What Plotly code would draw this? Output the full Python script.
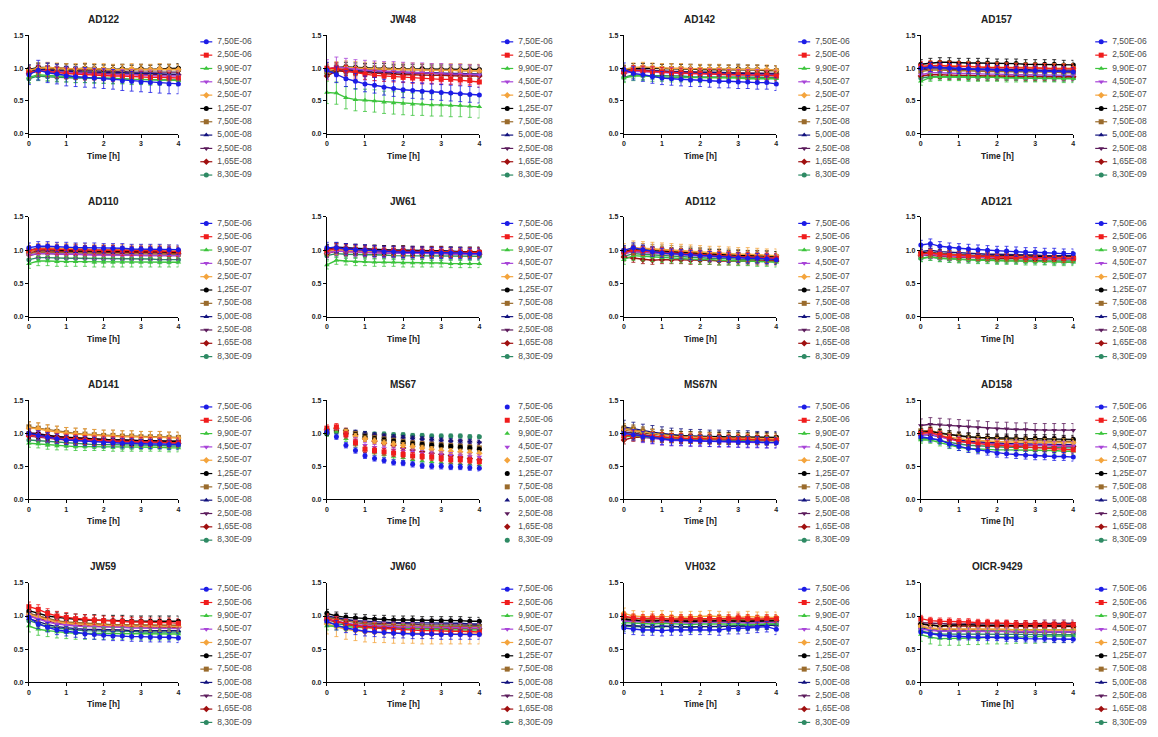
import plotly.graph_objects as go

W, H = 1158, 737

# ---------------- data ----------------
TIME_H = [0, 0.25, 0.5, 0.75, 1, 1.25, 1.5, 1.75, 2, 2.25, 2.5, 2.75, 3, 3.25, 3.5, 3.75, 4]
CONCENTRATIONS = ["7,50E-06", "2,50E-06", "9,90E-07", "4,50E-07", "2,50E-07", "1,25E-07",
                  "7,50E-08", "5,00E-08", "2,50E-08", "1,65E-08", "8,30E-09"]
X_TICKS = [0, 1, 2, 3, 4]
Y_TICKS = [0, 0.5, 1.0, 1.5]
Y_TICK_LABELS = ["0.0", "0.5", "1.0", "1.5"]
X_TITLE = "Time [h]"

# normalised signal in % of baseline; one row per concentration (order of CONCENTRATIONS)
AD122 = [
    [90, 97, 93, 91, 88, 87, 86, 85, 84, 83, 81, 80, 79, 78, 77, 76, 76],
    [93, 96, 95, 93, 92, 91, 90, 90, 89, 88, 88, 87, 87, 86, 86, 85, 85],
    [86, 90, 89, 88, 87, 86, 86, 85, 85, 84, 84, 83, 83, 82, 82, 82, 81],
    [92, 96, 95, 94, 93, 92, 92, 91, 91, 90, 90, 90, 89, 89, 88, 88, 88],
    [97, 100, 101, 100, 99, 99, 100, 99, 99, 98, 98, 99, 98, 98, 99, 98, 98],
    [98, 101, 101, 100, 100, 99, 100, 99, 98, 98, 99, 98, 99, 98, 99, 99, 100],
    [96, 100, 100, 99, 99, 98, 99, 98, 98, 97, 98, 97, 98, 97, 98, 98, 98],
    [94, 98, 97, 96, 95, 95, 94, 94, 93, 93, 93, 92, 92, 92, 91, 91, 91],
    [95, 99, 98, 97, 97, 96, 96, 96, 95, 95, 95, 94, 94, 94, 94, 93, 94],
    [92, 96, 95, 94, 93, 93, 92, 92, 92, 91, 91, 91, 90, 90, 90, 90, 90],
    [84, 88, 87, 86, 86, 85, 85, 85, 84, 84, 84, 83, 83, 83, 83, 83, 82],
]
AD122_SD = [15, 8, 8, 8, 8, 7, 7, 6, 6, 6, 7]

JW48 = [
    [97, 90, 84, 80, 76, 74, 71, 69, 67, 66, 65, 64, 63, 62, 61, 60, 59],
    [100, 100, 96, 93, 91, 89, 88, 87, 86, 85, 84, 84, 83, 83, 82, 81, 79],
    [63, 62, 55, 52, 51, 50, 48, 47, 46, 45, 45, 44, 44, 43, 43, 42, 41],
    [98, 102, 100, 98, 97, 96, 95, 95, 94, 93, 93, 92, 92, 91, 91, 90, 90],
    [96, 100, 101, 100, 99, 99, 99, 98, 98, 98, 97, 97, 97, 97, 97, 96, 96],
    [98, 101, 102, 101, 100, 100, 100, 99, 99, 99, 99, 98, 98, 98, 98, 98, 98],
    [95, 99, 100, 99, 99, 98, 98, 98, 98, 97, 97, 97, 97, 97, 96, 96, 96],
    [96, 99, 98, 97, 96, 95, 95, 94, 94, 93, 93, 93, 92, 92, 92, 91, 91],
    [94, 98, 97, 96, 95, 94, 94, 93, 93, 92, 92, 92, 91, 91, 90, 90, 89],
    [88, 96, 95, 94, 93, 92, 91, 91, 90, 90, 89, 89, 89, 88, 88, 88, 88],
    [92, 97, 96, 95, 94, 94, 93, 93, 93, 92, 92, 92, 92, 91, 91, 91, 91],
]
JW48_SD = [12, 8, 17, 15, 10, 7, 6, 6, 6, 6, 6]

AD142 = [
    [98, 92, 90, 87, 85, 84, 83, 82, 82, 81, 80, 80, 79, 79, 78, 78, 76],
    [95, 97, 96, 95, 94, 93, 93, 92, 92, 91, 91, 90, 90, 90, 89, 89, 88],
    [85, 88, 88, 87, 87, 86, 86, 86, 85, 85, 85, 85, 85, 84, 84, 84, 84],
    [92, 95, 95, 94, 93, 93, 92, 92, 91, 91, 91, 90, 90, 90, 90, 89, 89],
    [98, 101, 102, 101, 100, 100, 100, 99, 99, 99, 99, 98, 98, 98, 98, 98, 97],
    [97, 100, 100, 100, 99, 100, 99, 99, 98, 98, 98, 98, 99, 98, 98, 97, 97],
    [96, 100, 101, 100, 99, 99, 99, 98, 98, 98, 98, 97, 97, 97, 97, 96, 96],
    [94, 97, 97, 96, 95, 95, 94, 94, 94, 93, 93, 93, 92, 92, 92, 92, 91],
    [94, 97, 97, 96, 96, 95, 95, 94, 94, 94, 93, 93, 93, 93, 92, 92, 92],
    [92, 96, 95, 95, 94, 94, 93, 93, 93, 92, 92, 92, 92, 91, 91, 91, 91],
    [86, 90, 89, 89, 88, 88, 88, 87, 87, 87, 87, 86, 86, 86, 86, 86, 86],
]
AD142_SD = [10, 7, 7, 8, 7, 7, 7, 6, 6, 6, 6]

AD157 = [
    [100, 102, 101, 100, 99, 99, 98, 98, 97, 97, 96, 96, 96, 95, 95, 95, 94],
    [103, 104, 104, 103, 103, 102, 102, 101, 101, 101, 100, 100, 100, 100, 99, 99, 99],
    [80, 86, 87, 87, 87, 86, 86, 86, 86, 85, 85, 85, 85, 85, 85, 84, 84],
    [90, 93, 93, 92, 92, 92, 91, 91, 91, 90, 90, 90, 90, 90, 89, 89, 89],
    [100, 104, 104, 104, 103, 103, 102, 102, 102, 101, 101, 101, 101, 100, 100, 100, 100],
    [106, 108, 109, 109, 108, 108, 108, 108, 107, 107, 107, 106, 106, 106, 106, 105, 105],
    [95, 97, 97, 96, 96, 96, 95, 95, 95, 95, 94, 94, 94, 94, 94, 93, 93],
    [99, 101, 101, 100, 100, 99, 99, 99, 98, 98, 98, 98, 97, 97, 97, 97, 97],
    [97, 99, 99, 98, 98, 98, 97, 97, 97, 97, 96, 96, 96, 96, 96, 95, 95],
    [88, 90, 90, 89, 89, 89, 88, 88, 88, 88, 88, 87, 87, 87, 87, 87, 87],
    [85, 87, 87, 87, 87, 86, 86, 86, 86, 86, 86, 85, 85, 85, 85, 85, 85],
]
AD157_SD = [7, 7, 6, 7, 7, 7, 6, 6, 6, 6, 5]

AD110 = [
    [104, 106, 106, 105, 105, 104, 104, 104, 103, 103, 103, 102, 102, 102, 102, 101, 101],
    [100, 102, 102, 101, 101, 101, 100, 100, 100, 100, 99, 99, 99, 99, 99, 98, 98],
    [80, 84, 84, 83, 83, 83, 83, 82, 82, 82, 82, 82, 82, 82, 82, 82, 82],
    [93, 95, 95, 94, 94, 94, 93, 93, 93, 93, 92, 92, 92, 92, 92, 92, 92],
    [98, 102, 103, 103, 102, 102, 102, 101, 101, 101, 101, 100, 100, 100, 100, 100, 99],
    [99, 101, 101, 100, 100, 99, 99, 99, 99, 98, 98, 98, 98, 98, 98, 97, 97],
    [95, 97, 97, 97, 96, 96, 96, 96, 95, 95, 95, 95, 95, 95, 94, 94, 94],
    [100, 103, 103, 102, 102, 102, 101, 101, 101, 101, 100, 100, 100, 100, 100, 99, 99],
    [92, 95, 95, 94, 94, 94, 94, 93, 93, 93, 93, 93, 92, 92, 92, 92, 92],
    [96, 99, 99, 98, 98, 98, 97, 97, 97, 97, 96, 96, 96, 96, 96, 96, 95],
    [86, 89, 89, 88, 88, 88, 88, 87, 87, 87, 87, 87, 87, 87, 86, 86, 86],
]
AD110_SD = [7, 7, 7, 7, 8, 6, 6, 6, 6, 6, 6]

JW61 = [
    [104, 104, 102, 101, 100, 99, 98, 98, 97, 97, 97, 96, 96, 96, 96, 95, 95],
    [100, 103, 102, 101, 100, 100, 99, 99, 99, 98, 98, 98, 98, 97, 97, 97, 97],
    [78, 85, 84, 83, 83, 82, 82, 82, 81, 81, 81, 81, 81, 80, 80, 80, 80],
    [96, 99, 98, 97, 97, 96, 96, 96, 95, 95, 95, 95, 95, 94, 94, 94, 94],
    [98, 100, 100, 99, 99, 98, 98, 98, 98, 97, 97, 97, 97, 97, 96, 96, 96],
    [101, 104, 103, 102, 101, 101, 100, 100, 100, 99, 99, 99, 99, 98, 98, 98, 98],
    [97, 100, 100, 99, 98, 98, 98, 97, 97, 97, 97, 96, 96, 96, 96, 96, 96],
    [103, 105, 104, 103, 102, 101, 101, 100, 100, 100, 99, 99, 99, 99, 98, 98, 98],
    [99, 103, 102, 101, 100, 100, 99, 99, 99, 98, 98, 98, 98, 98, 97, 97, 97],
    [95, 99, 98, 98, 97, 97, 96, 96, 96, 96, 95, 95, 95, 95, 95, 94, 94],
    [92, 95, 94, 94, 93, 93, 93, 92, 92, 92, 92, 91, 91, 91, 91, 91, 91],
]
JW61_SD = [8, 7, 6, 7, 6, 7, 6, 6, 6, 6, 6]

AD112 = [
    [100, 104, 101, 98, 96, 95, 94, 93, 92, 91, 90, 89, 89, 88, 88, 87, 86],
    [97, 100, 99, 98, 97, 96, 95, 94, 93, 92, 92, 91, 90, 90, 89, 89, 88],
    [86, 92, 91, 90, 89, 88, 88, 87, 86, 86, 85, 85, 84, 84, 83, 83, 82],
    [95, 98, 97, 96, 95, 94, 93, 92, 92, 91, 90, 90, 89, 89, 88, 88, 88],
    [100, 104, 103, 102, 101, 100, 99, 98, 97, 96, 96, 95, 94, 94, 93, 92, 92],
    [98, 101, 100, 99, 98, 97, 96, 96, 95, 94, 94, 93, 93, 92, 92, 92, 91],
    [99, 103, 102, 101, 100, 99, 98, 97, 96, 95, 94, 94, 93, 92, 92, 91, 90],
    [97, 100, 99, 98, 97, 96, 95, 94, 93, 92, 92, 91, 91, 90, 90, 89, 89],
    [95, 98, 97, 96, 95, 94, 93, 93, 92, 91, 91, 90, 90, 89, 89, 88, 88],
    [90, 88, 86, 85, 86, 86, 86, 85, 85, 85, 84, 84, 84, 84, 84, 84, 84],
    [91, 95, 94, 93, 92, 91, 90, 90, 89, 88, 88, 87, 87, 86, 86, 86, 85],
]
AD112_SD = [7, 7, 7, 7, 10, 7, 8, 6, 6, 6, 6]

AD121 = [
    [108, 110, 106, 104, 103, 102, 101, 100, 99, 99, 98, 97, 97, 96, 96, 95, 95],
    [95, 96, 94, 93, 92, 92, 91, 91, 90, 90, 90, 89, 89, 89, 89, 88, 88],
    [88, 90, 88, 87, 86, 86, 85, 85, 84, 84, 84, 83, 83, 83, 82, 82, 82],
    [92, 94, 92, 91, 91, 90, 90, 90, 89, 89, 89, 88, 88, 88, 88, 88, 87],
    [94, 96, 94, 93, 92, 92, 91, 91, 91, 90, 90, 90, 89, 89, 89, 89, 89],
    [96, 97, 95, 94, 93, 93, 92, 92, 92, 91, 91, 91, 91, 90, 90, 90, 90],
    [93, 95, 93, 92, 91, 91, 90, 90, 90, 89, 89, 89, 89, 88, 88, 88, 88],
    [98, 100, 98, 97, 96, 95, 95, 94, 94, 94, 93, 93, 93, 92, 92, 92, 92],
    [95, 96, 94, 93, 92, 92, 91, 91, 91, 90, 90, 90, 90, 89, 89, 89, 89],
    [92, 93, 91, 90, 89, 89, 89, 88, 88, 88, 88, 87, 87, 87, 87, 87, 87],
    [88, 90, 88, 87, 87, 86, 86, 86, 85, 85, 85, 85, 85, 84, 84, 84, 84],
]
AD121_SD = [7, 6, 5, 6, 6, 6, 6, 6, 6, 5, 5]

AD141 = [
    [100, 97, 94, 92, 90, 89, 88, 87, 86, 86, 85, 85, 84, 84, 84, 83, 83],
    [98, 97, 95, 93, 92, 91, 90, 89, 89, 88, 88, 87, 87, 87, 86, 86, 86],
    [85, 84, 82, 81, 81, 80, 80, 80, 80, 79, 79, 79, 79, 79, 79, 78, 78],
    [97, 96, 94, 92, 91, 90, 89, 89, 88, 88, 87, 87, 87, 86, 86, 86, 86],
    [108, 107, 104, 102, 100, 99, 98, 97, 96, 96, 95, 95, 94, 94, 94, 93, 93],
    [100, 99, 97, 95, 94, 93, 92, 91, 91, 90, 90, 89, 89, 89, 88, 88, 88],
    [110, 108, 105, 103, 101, 100, 99, 98, 97, 97, 96, 96, 95, 95, 95, 94, 94],
    [99, 98, 96, 94, 93, 92, 91, 90, 90, 89, 89, 88, 88, 88, 87, 87, 87],
    [101, 100, 97, 95, 94, 93, 92, 91, 91, 90, 90, 89, 89, 89, 88, 88, 88],
    [96, 95, 93, 91, 90, 89, 89, 88, 88, 87, 87, 87, 86, 86, 86, 86, 85],
    [90, 89, 87, 86, 85, 84, 84, 83, 83, 83, 82, 82, 82, 82, 82, 81, 81],
]
AD141_SD = [7, 7, 6, 7, 9, 7, 8, 6, 6, 6, 6]

MS67 = [
    [102, 95, 82, 74, 66, 62, 59, 56, 55, 53, 51, 50, 50, 49, 49, 48, 47],
    [108, 110, 98, 86, 76, 74, 72, 70, 68, 66, 65, 64, 62, 60, 60, 59, 57],
    [100, 103, 92, 83, 75, 71, 68, 65, 63, 60, 58, 57, 56, 55, 54, 53, 52],
    [104, 106, 98, 90, 82, 79, 77, 75, 73, 72, 70, 69, 68, 67, 66, 65, 64],
    [105, 108, 102, 96, 92, 89, 86, 84, 82, 80, 78, 76, 74, 73, 72, 71, 70],
    [100, 104, 100, 98, 95, 92, 90, 88, 86, 84, 83, 82, 81, 80, 79, 78, 76],
    [104, 106, 103, 99, 95, 93, 91, 89, 87, 85, 84, 83, 82, 81, 80, 79, 78],
    [102, 106, 104, 102, 100, 98, 96, 95, 94, 93, 92, 91, 90, 89, 88, 88, 87],
    [101, 104, 103, 101, 99, 97, 96, 94, 93, 92, 91, 90, 89, 88, 88, 87, 86],
    [106, 108, 104, 98, 92, 88, 85, 82, 78, 75, 72, 70, 68, 66, 64, 62, 60],
    [99, 103, 102, 101, 100, 99, 99, 98, 98, 97, 97, 96, 96, 96, 96, 95, 95],
]
MS67_SD = [4, 5, 4, 4, 4, 3, 4, 3, 3, 4, 3]

MS67N = [
    [100, 98, 95, 93, 91, 90, 90, 89, 89, 88, 88, 88, 87, 87, 87, 86, 86],
    [96, 97, 96, 95, 94, 93, 93, 92, 92, 92, 91, 91, 91, 91, 90, 90, 90],
    [95, 96, 95, 94, 93, 92, 92, 91, 91, 91, 90, 90, 90, 90, 89, 89, 89],
    [98, 97, 94, 92, 90, 89, 89, 88, 88, 88, 87, 87, 87, 86, 86, 86, 86],
    [106, 104, 101, 99, 97, 96, 95, 95, 94, 94, 93, 93, 93, 93, 92, 92, 92],
    [105, 104, 101, 99, 98, 97, 96, 96, 95, 95, 95, 94, 94, 94, 94, 94, 94],
    [108, 106, 103, 100, 98, 97, 96, 95, 95, 94, 94, 94, 93, 93, 93, 93, 93],
    [110, 107, 104, 102, 100, 98, 97, 96, 96, 95, 95, 94, 94, 94, 93, 93, 93],
    [102, 101, 98, 96, 94, 93, 92, 92, 91, 91, 91, 90, 90, 90, 90, 89, 89],
    [90, 94, 94, 93, 92, 92, 91, 91, 91, 90, 90, 90, 90, 90, 89, 89, 89],
    [100, 99, 97, 95, 94, 93, 92, 92, 91, 91, 91, 90, 90, 90, 90, 90, 89],
]
MS67N_SD = [8, 7, 6, 8, 7, 7, 7, 10, 7, 6, 6]

AD158 = [
    [95, 93, 90, 84, 80, 77, 75, 73, 70, 69, 68, 67, 66, 66, 65, 65, 64],
    [100, 102, 97, 92, 88, 86, 84, 83, 82, 81, 80, 80, 79, 78, 77, 76, 75],
    [90, 90, 86, 82, 79, 77, 76, 76, 75, 75, 75, 74, 74, 74, 74, 73, 73],
    [98, 99, 95, 91, 88, 86, 85, 84, 84, 83, 83, 82, 82, 82, 81, 81, 81],
    [100, 100, 97, 94, 92, 90, 89, 88, 88, 87, 87, 87, 86, 86, 86, 86, 86],
    [102, 103, 100, 98, 96, 95, 94, 93, 93, 93, 92, 92, 92, 92, 92, 91, 91],
    [104, 104, 101, 98, 96, 94, 93, 92, 91, 90, 90, 89, 89, 88, 88, 88, 88],
    [98, 98, 95, 92, 90, 88, 87, 86, 85, 85, 84, 84, 84, 83, 83, 83, 83],
    [112, 114, 113, 112, 111, 110, 109, 108, 107, 107, 106, 106, 105, 105, 105, 105, 105],
    [99, 100, 96, 92, 89, 87, 86, 85, 84, 83, 83, 82, 82, 82, 81, 81, 80],
    [92, 92, 89, 86, 84, 82, 81, 80, 80, 79, 79, 79, 78, 78, 78, 78, 78],
]
AD158_SD = [6, 6, 5, 7, 6, 6, 6, 6, 10, 6, 5]

JW59 = [
    [98, 88, 83, 79, 77, 75, 73, 72, 71, 70, 70, 69, 69, 68, 68, 68, 67],
    [114, 110, 104, 100, 98, 96, 95, 94, 93, 92, 92, 91, 91, 90, 90, 90, 89],
    [85, 80, 78, 76, 75, 74, 74, 74, 74, 74, 74, 74, 73, 73, 73, 73, 73],
    [100, 95, 91, 88, 86, 85, 84, 84, 83, 83, 83, 82, 82, 82, 82, 82, 81],
    [102, 98, 94, 91, 89, 88, 87, 86, 86, 85, 85, 85, 84, 84, 84, 84, 84],
    [108, 104, 100, 98, 96, 95, 94, 94, 93, 93, 93, 92, 92, 92, 92, 92, 92],
    [104, 100, 96, 93, 91, 90, 89, 88, 88, 87, 87, 87, 86, 86, 86, 86, 86],
    [96, 91, 87, 84, 82, 81, 80, 80, 79, 79, 79, 78, 78, 78, 78, 78, 78],
    [104, 100, 95, 92, 90, 89, 88, 87, 87, 86, 86, 86, 86, 85, 85, 85, 85],
    [100, 96, 92, 89, 87, 86, 85, 85, 84, 84, 84, 84, 83, 83, 83, 83, 83],
    [93, 88, 84, 82, 80, 79, 78, 78, 77, 77, 77, 77, 76, 76, 76, 76, 76],
]
JW59_SD = [7, 7, 9, 8, 7, 8, 7, 7, 9, 6, 6]

JW60 = [
    [92, 86, 82, 79, 77, 76, 75, 74, 74, 73, 73, 73, 72, 72, 72, 72, 72],
    [96, 92, 88, 85, 83, 82, 81, 80, 79, 79, 78, 78, 77, 77, 77, 76, 76],
    [85, 85, 84, 83, 82, 82, 81, 81, 81, 80, 80, 80, 80, 79, 79, 79, 79],
    [95, 92, 89, 87, 86, 85, 84, 84, 83, 83, 83, 82, 82, 82, 82, 82, 82],
    [88, 84, 80, 78, 76, 75, 75, 74, 74, 74, 73, 73, 73, 73, 73, 73, 73],
    [104, 100, 98, 97, 96, 95, 95, 94, 94, 94, 93, 93, 93, 93, 93, 92, 92],
    [98, 95, 92, 90, 88, 87, 86, 86, 85, 85, 85, 84, 84, 84, 84, 84, 84],
    [100, 97, 95, 93, 92, 91, 91, 90, 90, 90, 89, 89, 89, 89, 89, 88, 88],
    [98, 96, 93, 91, 90, 89, 89, 88, 88, 88, 87, 87, 87, 87, 86, 86, 86],
    [94, 91, 88, 86, 85, 84, 83, 83, 82, 82, 82, 81, 81, 81, 81, 81, 81],
    [90, 88, 86, 85, 84, 83, 83, 82, 82, 82, 82, 82, 81, 81, 81, 81, 81],
]
JW60_SD = [7, 7, 6, 7, 15, 6, 8, 6, 6, 6, 6]

VH032 = [
    [82, 80, 79, 79, 78, 79, 79, 80, 80, 80, 79, 81, 81, 82, 83, 84, 80],
    [100, 97, 96, 97, 96, 95, 96, 96, 95, 96, 95, 96, 97, 96, 95, 96, 96],
    [90, 89, 88, 88, 89, 88, 88, 87, 88, 88, 89, 88, 88, 87, 88, 88, 88],
    [92, 91, 90, 90, 91, 90, 90, 89, 90, 90, 91, 90, 90, 89, 90, 90, 90],
    [104, 100, 99, 99, 100, 99, 98, 99, 99, 100, 99, 98, 98, 99, 98, 98, 98],
    [95, 93, 92, 92, 93, 92, 92, 91, 92, 92, 93, 92, 92, 92, 92, 93, 93],
    [98, 96, 95, 95, 96, 95, 95, 94, 95, 95, 96, 95, 95, 94, 95, 95, 95],
    [86, 85, 84, 84, 85, 84, 84, 83, 84, 84, 85, 84, 85, 85, 85, 86, 86],
    [93, 92, 91, 91, 92, 91, 91, 90, 91, 91, 92, 91, 91, 91, 91, 91, 91],
    [96, 94, 93, 93, 94, 93, 93, 92, 93, 93, 94, 93, 93, 93, 93, 93, 93],
    [85, 84, 83, 83, 84, 84, 84, 83, 84, 84, 84, 85, 85, 86, 87, 88, 88],
]
VH032_SD = [8, 6, 6, 6, 8, 6, 6, 6, 6, 6, 8]

OICR_9429 = [
    [76, 73, 71, 70, 69, 69, 68, 68, 68, 67, 67, 66, 66, 66, 65, 65, 65],
    [96, 93, 92, 92, 91, 91, 90, 90, 89, 89, 88, 88, 88, 87, 87, 87, 87],
    [72, 68, 66, 66, 66, 67, 67, 68, 68, 68, 69, 69, 69, 70, 70, 70, 70],
    [80, 78, 77, 77, 77, 77, 77, 77, 77, 77, 77, 77, 77, 77, 76, 76, 76],
    [85, 82, 81, 81, 80, 80, 80, 80, 80, 80, 79, 79, 79, 79, 79, 79, 79],
    [88, 86, 85, 86, 87, 87, 86, 86, 86, 86, 85, 85, 85, 85, 85, 85, 85],
    [84, 81, 80, 80, 80, 80, 80, 80, 79, 79, 79, 79, 79, 79, 79, 79, 79],
    [82, 79, 78, 78, 77, 77, 77, 77, 77, 77, 76, 76, 76, 76, 76, 76, 76],
    [90, 89, 88, 88, 88, 88, 88, 88, 88, 88, 88, 88, 88, 89, 89, 89, 89],
    [88, 86, 85, 85, 85, 85, 85, 84, 84, 84, 84, 84, 84, 84, 84, 84, 84],
    [78, 74, 73, 73, 72, 72, 72, 72, 72, 72, 72, 72, 72, 72, 72, 72, 72],
]
OICR_9429_SD = [5, 5, 10, 5, 5, 5, 5, 5, 5, 5, 5]

PANELS = [
    ("AD122", AD122, AD122_SD, "lines+markers"),
    ("JW48", JW48, JW48_SD, "lines+markers"),
    ("AD142", AD142, AD142_SD, "lines+markers"),
    ("AD157", AD157, AD157_SD, "lines+markers"),
    ("AD110", AD110, AD110_SD, "lines+markers"),
    ("JW61", JW61, JW61_SD, "lines+markers"),
    ("AD112", AD112, AD112_SD, "lines+markers"),
    ("AD121", AD121, AD121_SD, "lines+markers"),
    ("AD141", AD141, AD141_SD, "lines+markers"),
    ("MS67", MS67, MS67_SD, "markers"),
    ("MS67N", MS67N, MS67N_SD, "lines+markers"),
    ("AD158", AD158, AD158_SD, "lines+markers"),
    ("JW59", JW59, JW59_SD, "lines+markers"),
    ("JW60", JW60, JW60_SD, "lines+markers"),
    ("VH032", VH032, VH032_SD, "lines+markers"),
    ("OICR-9429", OICR_9429, OICR_9429_SD, "lines+markers"),
]

# ---------------- style ----------------
COLORS = ["#1c1ce6", "#f01c1c", "#3cc43c", "#a844d8", "#f4a43c", "#000000",
          "#9a6b2c", "#12127e", "#5c1c5c", "#a01010", "#2e8a64"]
SYMBOLS = ["circle", "square", "triangle-up", "triangle-down", "diamond", "circle",
           "square", "triangle-up", "triangle-down", "diamond", "circle"]

FONT = "Liberation Sans, Arial, sans-serif"
COL_L = [27, 326, 624, 922]
COL_R = [177, 479, 777, 1075]
ROW_T = [31.7, 215, 400.3, 584.3]
ROW_B = [131, 316, 500, 685]


def ax(n, kind):
    return kind + ("" if n == 1 else str(n))


fig = go.Figure()
layout = dict(width=W, height=H, autosize=False, margin=dict(l=0, r=0, t=0, b=0),
              paper_bgcolor="white", plot_bgcolor="rgba(0,0,0,0)", showlegend=False)
annotations = []

for p, (title, vals, sds, mode) in enumerate(PANELS):
    r, c = divmod(p, 4)
    n = p + 1
    axis_common = dict(showline=True, linecolor="black", linewidth=1, ticks="outside",
                       ticklen=3, tickwidth=1, tickcolor="black", showgrid=False,
                       zeroline=False, fixedrange=True,
                       tickfont=dict(family=FONT, size=7, color="#222", weight="bold"))
    layout[ax(n, "xaxis")] = dict(domain=[COL_L[c] / W, COL_R[c] / W], anchor=ax(n, "y"),
                                  range=[0, 4], tickvals=X_TICKS, **axis_common)
    layout[ax(n, "yaxis")] = dict(domain=[1 - ROW_B[r] / H, 1 - ROW_T[r] / H], anchor=ax(n, "x"),
                                  range=[0, 1.5], tickvals=Y_TICKS, ticktext=Y_TICK_LABELS,
                                  **axis_common)
    for k in reversed(range(len(CONCENTRATIONS))):
        sd = sds[k] / 100
        fig.add_trace(go.Scatter(
            x=TIME_H, y=[v / 100 for v in vals[k]], mode=mode,
            xaxis=ax(n, "x"), yaxis=ax(n, "y"), name=CONCENTRATIONS[k],
            line=dict(color=COLORS[k], width=1.4),
            marker=dict(symbol=SYMBOLS[k], size=5, color=COLORS[k], line=dict(width=0)),
            error_y=dict(type="data", array=[sd] * len(TIME_H), color=COLORS[k],
                         thickness=0.8, width=2),
            cliponaxis=False, showlegend=False, hoverinfo="skip"))
    cx = (COL_L[c] + COL_R[c]) / 2
    annotations.append(dict(xref="paper", yref="paper", x=cx / W, y=1 - (ROW_T[r] - 16) / H,
                            text=f"<b>{title}</b>", showarrow=False, xanchor="center",
                            yanchor="middle", font=dict(family=FONT, size=10, color="#222")))
    annotations.append(dict(xref="paper", yref="paper", x=cx / W, y=1 - (ROW_B[r] + 22) / H,
                            text=f"<b>{X_TITLE}</b>", showarrow=False, xanchor="center",
                            yanchor="middle", font=dict(family=FONT, size=8.5, color="#222")))

# ---------------- per-panel legends (pixel overlay axis) ----------------
NL = 17
layout[ax(NL, "xaxis")] = dict(domain=[0, 1], range=[0, W], visible=False, fixedrange=True,
                               anchor=ax(NL, "y"))
layout[ax(NL, "yaxis")] = dict(domain=[0, 1], range=[H, 0], visible=False, fixedrange=True,
                               anchor=ax(NL, "x"))
for k in range(len(CONCENTRATIONS)):
    lx, ly, mx, my, tx, ty = [], [], [], [], [], []
    for p, (title, vals, sds, mode) in enumerate(PANELS):
        r, c = divmod(p, 4)
        yy = ROW_T[r] + 6.5 + k * 13.45
        x0 = COL_R[c] + 22
        if "lines" in mode:
            lx += [x0, x0 + 12, None]
            ly += [yy, yy, None]
        mx.append(x0 + 6)
        my.append(yy)
        tx.append(x0 + 17)
        ty.append(yy)
    fig.add_trace(go.Scatter(x=lx, y=ly, mode="lines", xaxis=ax(NL, "x"), yaxis=ax(NL, "y"),
                             line=dict(color=COLORS[k], width=1.2), showlegend=False,
                             hoverinfo="skip", cliponaxis=False))
    fig.add_trace(go.Scatter(x=mx, y=my, mode="markers", xaxis=ax(NL, "x"), yaxis=ax(NL, "y"),
                             marker=dict(symbol=SYMBOLS[k], size=5, color=COLORS[k]),
                             showlegend=False, hoverinfo="skip", cliponaxis=False))
    fig.add_trace(go.Scatter(x=tx, y=ty, mode="text", xaxis=ax(NL, "x"), yaxis=ax(NL, "y"),
                             text=[CONCENTRATIONS[k]] * len(tx), textposition="middle right",
                             textfont=dict(family=FONT, size=8.5, color="#4a4a4a"),
                             showlegend=False, hoverinfo="skip", cliponaxis=False))

layout["annotations"] = annotations
fig.update_layout(**layout)
fig.write_html("out.html")
